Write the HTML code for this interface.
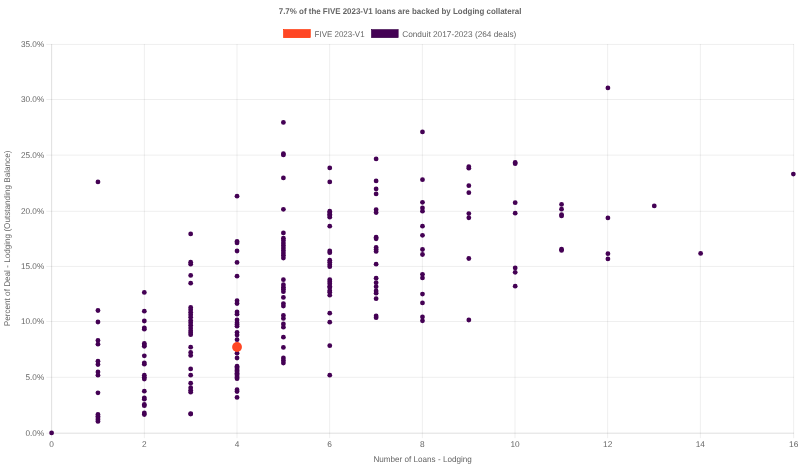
<!DOCTYPE html>
<html><head><meta charset="utf-8"><title>Lodging collateral</title>
<style>html,body{margin:0;padding:0;background:#fff;}body{width:800px;height:467px;overflow:hidden;}svg{display:block;font-family:"Liberation Sans",sans-serif;font-size:8.3px;fill:#666;text-rendering:geometricPrecision;}</style></head><body>
<svg width="800" height="467" viewBox="0 0 800 467">
<defs><filter id="soft" x="0" y="0" width="800" height="467" filterUnits="userSpaceOnUse" color-interpolation-filters="sRGB"><feGaussianBlur stdDeviation="0.4"/></filter></defs>
<rect width="800" height="467" fill="#fff"/>
<g stroke="rgba(0,0,0,0.1)" stroke-width="0.667" fill="none">
<line x1="51.67" y1="44.07" x2="51.67" y2="438.17"/>
<line x1="144.33" y1="44.07" x2="144.33" y2="438.17"/>
<line x1="237.00" y1="44.07" x2="237.00" y2="438.17"/>
<line x1="329.67" y1="44.07" x2="329.67" y2="438.17"/>
<line x1="422.33" y1="44.07" x2="422.33" y2="438.17"/>
<line x1="515.00" y1="44.07" x2="515.00" y2="438.17"/>
<line x1="607.67" y1="44.07" x2="607.67" y2="438.17"/>
<line x1="700.33" y1="44.07" x2="700.33" y2="438.17"/>
<line x1="793.67" y1="44.07" x2="793.67" y2="438.17"/>
<line x1="46.27" y1="433.17" x2="794.00" y2="433.17"/>
<line x1="46.27" y1="377.28" x2="794.00" y2="377.28"/>
<line x1="46.27" y1="321.53" x2="794.00" y2="321.53"/>
<line x1="46.27" y1="266.40" x2="794.00" y2="266.40"/>
<line x1="46.27" y1="211.30" x2="794.00" y2="211.30"/>
<line x1="46.27" y1="155.15" x2="794.00" y2="155.15"/>
<line x1="46.27" y1="99.50" x2="794.00" y2="99.50"/>
<line x1="46.27" y1="44.40" x2="794.00" y2="44.40"/>
<line x1="51.67" y1="44.07" x2="51.67" y2="433.50"/>
<line x1="51.34" y1="433.17" x2="794.00" y2="433.17"/>
</g>
<rect x="283.6" y="29.65" width="26.67" height="8" fill="#ff4624" stroke="#ff3000" stroke-width="0.667"/>
<rect x="371.5" y="29.65" width="26.67" height="8" fill="#440154" stroke="#3a0048" stroke-width="0.667"/>
<g filter="url(#soft)">
<g text-anchor="end">
<text x="44.2" y="435.97" textLength="18.7" lengthAdjust="spacingAndGlyphs">0.0%</text>
<text x="44.2" y="380.08" textLength="18.7" lengthAdjust="spacingAndGlyphs">5.0%</text>
<text x="44.2" y="324.33" textLength="23.3" lengthAdjust="spacingAndGlyphs">10.0%</text>
<text x="44.2" y="269.20" textLength="23.3" lengthAdjust="spacingAndGlyphs">15.0%</text>
<text x="44.2" y="214.10" textLength="23.3" lengthAdjust="spacingAndGlyphs">20.0%</text>
<text x="44.2" y="157.95" textLength="23.3" lengthAdjust="spacingAndGlyphs">25.0%</text>
<text x="44.2" y="102.30" textLength="23.3" lengthAdjust="spacingAndGlyphs">30.0%</text>
<text x="44.2" y="47.20" textLength="23.3" lengthAdjust="spacingAndGlyphs">35.0%</text>
</g><g text-anchor="middle">
<text x="51.67" y="447.4">0</text>
<text x="144.33" y="447.4">2</text>
<text x="237.00" y="447.4">4</text>
<text x="329.67" y="447.4">6</text>
<text x="422.33" y="447.4">8</text>
<text x="515.00" y="447.4">10</text>
<text x="607.67" y="447.4">12</text>
<text x="700.33" y="447.4">14</text>
<text x="793.67" y="447.4">16</text>
</g>
<text x="400.05" y="14.35" text-anchor="middle" font-weight="bold" textLength="242.6" lengthAdjust="spacingAndGlyphs">7.7% of the FIVE 2023-V1 loans are backed by Lodging collateral</text>
<text x="422.6" y="461.75" text-anchor="middle" textLength="98.4" lengthAdjust="spacingAndGlyphs">Number of Loans - Lodging</text>
<text transform="translate(10.4,238.4) rotate(-90)" text-anchor="middle" textLength="175.6" lengthAdjust="spacingAndGlyphs">Percent of Deal - Lodging (Outstanding Balance)</text>
<text x="314.6" y="36.8" textLength="50.0" lengthAdjust="spacingAndGlyphs">FIVE 2023-V1</text>
<text x="402.2" y="36.8" textLength="114.1" lengthAdjust="spacingAndGlyphs">Conduit 2017-2023 (264 deals)</text>
<g fill="#440154">
<circle cx="51.60" cy="432.95" r="2.4"/>
<circle cx="97.96" cy="181.95" r="2.4"/>
<circle cx="97.96" cy="310.50" r="2.4"/>
<circle cx="97.96" cy="322.00" r="2.4"/>
<circle cx="97.96" cy="340.50" r="2.4"/>
<circle cx="97.96" cy="344.20" r="2.4"/>
<circle cx="97.96" cy="361.20" r="2.4"/>
<circle cx="97.96" cy="364.50" r="2.4"/>
<circle cx="97.96" cy="372.00" r="2.4"/>
<circle cx="97.96" cy="375.20" r="2.4"/>
<circle cx="97.96" cy="392.80" r="2.4"/>
<circle cx="97.96" cy="414.40" r="2.4"/>
<circle cx="97.96" cy="416.20" r="2.4"/>
<circle cx="97.96" cy="418.00" r="2.4"/>
<circle cx="97.96" cy="419.80" r="2.4"/>
<circle cx="97.96" cy="421.40" r="2.4"/>
<circle cx="144.32" cy="292.45" r="2.4"/>
<circle cx="144.32" cy="311.20" r="2.4"/>
<circle cx="144.32" cy="321.00" r="2.4"/>
<circle cx="144.32" cy="327.80" r="2.4"/>
<circle cx="144.32" cy="329.20" r="2.4"/>
<circle cx="144.32" cy="343.50" r="2.4"/>
<circle cx="144.32" cy="345.00" r="2.4"/>
<circle cx="144.32" cy="346.30" r="2.4"/>
<circle cx="144.32" cy="355.80" r="2.4"/>
<circle cx="144.32" cy="362.80" r="2.4"/>
<circle cx="144.32" cy="364.20" r="2.4"/>
<circle cx="144.32" cy="375.20" r="2.4"/>
<circle cx="144.32" cy="377.20" r="2.4"/>
<circle cx="144.32" cy="379.00" r="2.4"/>
<circle cx="144.32" cy="391.20" r="2.4"/>
<circle cx="144.32" cy="397.80" r="2.4"/>
<circle cx="144.32" cy="399.20" r="2.4"/>
<circle cx="144.32" cy="404.50" r="2.4"/>
<circle cx="144.32" cy="405.70" r="2.4"/>
<circle cx="144.32" cy="413.00" r="2.4"/>
<circle cx="144.32" cy="414.50" r="2.4"/>
<circle cx="190.68" cy="233.95" r="2.4"/>
<circle cx="190.68" cy="262.20" r="2.4"/>
<circle cx="190.68" cy="264.20" r="2.4"/>
<circle cx="190.68" cy="275.45" r="2.4"/>
<circle cx="190.68" cy="283.20" r="2.4"/>
<circle cx="190.68" cy="307.40" r="2.4"/>
<circle cx="190.68" cy="309.70" r="2.4"/>
<circle cx="190.68" cy="312.20" r="2.4"/>
<circle cx="190.68" cy="314.70" r="2.4"/>
<circle cx="190.68" cy="317.20" r="2.4"/>
<circle cx="190.68" cy="320.40" r="2.4"/>
<circle cx="190.68" cy="322.70" r="2.4"/>
<circle cx="190.68" cy="325.20" r="2.4"/>
<circle cx="190.68" cy="327.90" r="2.4"/>
<circle cx="190.68" cy="330.70" r="2.4"/>
<circle cx="190.68" cy="332.70" r="2.4"/>
<circle cx="190.68" cy="334.70" r="2.4"/>
<circle cx="190.68" cy="347.20" r="2.4"/>
<circle cx="190.68" cy="352.40" r="2.4"/>
<circle cx="190.68" cy="355.40" r="2.4"/>
<circle cx="190.68" cy="368.95" r="2.4"/>
<circle cx="190.68" cy="375.20" r="2.4"/>
<circle cx="190.68" cy="383.20" r="2.4"/>
<circle cx="190.68" cy="387.70" r="2.4"/>
<circle cx="190.68" cy="390.20" r="2.4"/>
<circle cx="190.68" cy="392.20" r="2.4"/>
<circle cx="190.68" cy="413.70" r="2.4"/>
<circle cx="190.68" cy="414.10" r="2.4"/>
<circle cx="237.04" cy="196.20" r="2.4"/>
<circle cx="237.04" cy="241.50" r="2.4"/>
<circle cx="237.04" cy="242.90" r="2.4"/>
<circle cx="237.04" cy="251.00" r="2.4"/>
<circle cx="237.04" cy="262.40" r="2.4"/>
<circle cx="237.04" cy="276.20" r="2.4"/>
<circle cx="237.04" cy="300.70" r="2.4"/>
<circle cx="237.04" cy="303.50" r="2.4"/>
<circle cx="237.04" cy="311.90" r="2.4"/>
<circle cx="237.04" cy="314.20" r="2.4"/>
<circle cx="237.04" cy="319.90" r="2.4"/>
<circle cx="237.04" cy="322.70" r="2.4"/>
<circle cx="237.04" cy="324.50" r="2.4"/>
<circle cx="237.04" cy="326.20" r="2.4"/>
<circle cx="237.04" cy="332.40" r="2.4"/>
<circle cx="237.04" cy="335.00" r="2.4"/>
<circle cx="237.04" cy="339.70" r="2.4"/>
<circle cx="237.04" cy="353.20" r="2.4"/>
<circle cx="237.04" cy="358.00" r="2.4"/>
<circle cx="237.04" cy="366.20" r="2.4"/>
<circle cx="237.04" cy="367.60" r="2.4"/>
<circle cx="237.04" cy="369.00" r="2.4"/>
<circle cx="237.04" cy="370.40" r="2.4"/>
<circle cx="237.04" cy="371.80" r="2.4"/>
<circle cx="237.04" cy="373.20" r="2.4"/>
<circle cx="237.04" cy="374.60" r="2.4"/>
<circle cx="237.04" cy="376.00" r="2.4"/>
<circle cx="237.04" cy="377.40" r="2.4"/>
<circle cx="237.04" cy="378.70" r="2.4"/>
<circle cx="237.04" cy="389.70" r="2.4"/>
<circle cx="237.04" cy="391.50" r="2.4"/>
<circle cx="237.04" cy="397.45" r="2.4"/>
<circle cx="283.40" cy="122.45" r="2.4"/>
<circle cx="283.40" cy="153.70" r="2.4"/>
<circle cx="283.40" cy="154.95" r="2.4"/>
<circle cx="283.40" cy="177.95" r="2.4"/>
<circle cx="283.40" cy="209.30" r="2.4"/>
<circle cx="283.40" cy="232.90" r="2.4"/>
<circle cx="283.40" cy="238.20" r="2.4"/>
<circle cx="283.40" cy="240.60" r="2.4"/>
<circle cx="283.40" cy="243.10" r="2.4"/>
<circle cx="283.40" cy="245.50" r="2.4"/>
<circle cx="283.40" cy="248.00" r="2.4"/>
<circle cx="283.40" cy="250.40" r="2.4"/>
<circle cx="283.40" cy="252.90" r="2.4"/>
<circle cx="283.40" cy="255.30" r="2.4"/>
<circle cx="283.40" cy="258.00" r="2.4"/>
<circle cx="283.40" cy="279.70" r="2.4"/>
<circle cx="283.40" cy="284.70" r="2.4"/>
<circle cx="283.40" cy="287.20" r="2.4"/>
<circle cx="283.40" cy="289.20" r="2.4"/>
<circle cx="283.40" cy="291.70" r="2.4"/>
<circle cx="283.40" cy="297.40" r="2.4"/>
<circle cx="283.40" cy="303.60" r="2.4"/>
<circle cx="283.40" cy="306.00" r="2.4"/>
<circle cx="283.40" cy="315.40" r="2.4"/>
<circle cx="283.40" cy="318.40" r="2.4"/>
<circle cx="283.40" cy="324.00" r="2.4"/>
<circle cx="283.40" cy="327.20" r="2.4"/>
<circle cx="283.40" cy="337.20" r="2.4"/>
<circle cx="283.40" cy="347.45" r="2.4"/>
<circle cx="283.40" cy="357.90" r="2.4"/>
<circle cx="283.40" cy="360.50" r="2.4"/>
<circle cx="283.40" cy="363.00" r="2.4"/>
<circle cx="329.76" cy="167.95" r="2.4"/>
<circle cx="329.76" cy="181.95" r="2.4"/>
<circle cx="329.76" cy="211.20" r="2.4"/>
<circle cx="329.76" cy="212.70" r="2.4"/>
<circle cx="329.76" cy="214.20" r="2.4"/>
<circle cx="329.76" cy="215.70" r="2.4"/>
<circle cx="329.76" cy="217.20" r="2.4"/>
<circle cx="329.76" cy="226.20" r="2.4"/>
<circle cx="329.76" cy="250.95" r="2.4"/>
<circle cx="329.76" cy="252.70" r="2.4"/>
<circle cx="329.76" cy="260.20" r="2.4"/>
<circle cx="329.76" cy="262.20" r="2.4"/>
<circle cx="329.76" cy="264.70" r="2.4"/>
<circle cx="329.76" cy="266.70" r="2.4"/>
<circle cx="329.76" cy="279.70" r="2.4"/>
<circle cx="329.76" cy="281.70" r="2.4"/>
<circle cx="329.76" cy="283.70" r="2.4"/>
<circle cx="329.76" cy="286.20" r="2.4"/>
<circle cx="329.76" cy="287.70" r="2.4"/>
<circle cx="329.76" cy="290.70" r="2.4"/>
<circle cx="329.76" cy="292.20" r="2.4"/>
<circle cx="329.76" cy="295.20" r="2.4"/>
<circle cx="329.76" cy="313.20" r="2.4"/>
<circle cx="329.76" cy="322.20" r="2.4"/>
<circle cx="329.76" cy="345.70" r="2.4"/>
<circle cx="329.76" cy="375.20" r="2.4"/>
<circle cx="376.12" cy="158.95" r="2.4"/>
<circle cx="376.12" cy="180.95" r="2.4"/>
<circle cx="376.12" cy="188.95" r="2.4"/>
<circle cx="376.12" cy="193.95" r="2.4"/>
<circle cx="376.12" cy="209.70" r="2.4"/>
<circle cx="376.12" cy="212.60" r="2.4"/>
<circle cx="376.12" cy="237.20" r="2.4"/>
<circle cx="376.12" cy="238.80" r="2.4"/>
<circle cx="376.12" cy="247.50" r="2.4"/>
<circle cx="376.12" cy="249.40" r="2.4"/>
<circle cx="376.12" cy="251.45" r="2.4"/>
<circle cx="376.12" cy="264.20" r="2.4"/>
<circle cx="376.12" cy="278.20" r="2.4"/>
<circle cx="376.12" cy="282.70" r="2.4"/>
<circle cx="376.12" cy="286.70" r="2.4"/>
<circle cx="376.12" cy="291.00" r="2.4"/>
<circle cx="376.12" cy="293.20" r="2.4"/>
<circle cx="376.12" cy="298.70" r="2.4"/>
<circle cx="376.12" cy="315.95" r="2.4"/>
<circle cx="376.12" cy="317.70" r="2.4"/>
<circle cx="422.48" cy="131.95" r="2.4"/>
<circle cx="422.48" cy="179.70" r="2.4"/>
<circle cx="422.48" cy="202.30" r="2.4"/>
<circle cx="422.48" cy="208.00" r="2.4"/>
<circle cx="422.48" cy="211.20" r="2.4"/>
<circle cx="422.48" cy="226.20" r="2.4"/>
<circle cx="422.48" cy="235.30" r="2.4"/>
<circle cx="422.48" cy="249.50" r="2.4"/>
<circle cx="422.48" cy="254.50" r="2.4"/>
<circle cx="422.48" cy="274.30" r="2.4"/>
<circle cx="422.48" cy="277.90" r="2.4"/>
<circle cx="422.48" cy="294.10" r="2.4"/>
<circle cx="422.48" cy="302.90" r="2.4"/>
<circle cx="422.48" cy="317.00" r="2.4"/>
<circle cx="422.48" cy="320.80" r="2.4"/>
<circle cx="468.83" cy="166.70" r="2.4"/>
<circle cx="468.83" cy="168.20" r="2.4"/>
<circle cx="468.83" cy="185.70" r="2.4"/>
<circle cx="468.83" cy="192.70" r="2.4"/>
<circle cx="468.83" cy="213.60" r="2.4"/>
<circle cx="468.83" cy="217.80" r="2.4"/>
<circle cx="468.83" cy="258.50" r="2.4"/>
<circle cx="468.83" cy="320.00" r="2.4"/>
<circle cx="515.19" cy="162.45" r="2.4"/>
<circle cx="515.19" cy="163.70" r="2.4"/>
<circle cx="515.19" cy="202.70" r="2.4"/>
<circle cx="515.19" cy="213.20" r="2.4"/>
<circle cx="515.19" cy="267.95" r="2.4"/>
<circle cx="515.19" cy="272.30" r="2.4"/>
<circle cx="515.19" cy="286.20" r="2.4"/>
<circle cx="561.55" cy="204.45" r="2.4"/>
<circle cx="561.55" cy="209.20" r="2.4"/>
<circle cx="561.55" cy="214.70" r="2.4"/>
<circle cx="561.55" cy="215.95" r="2.4"/>
<circle cx="561.55" cy="249.20" r="2.4"/>
<circle cx="561.55" cy="250.45" r="2.4"/>
<circle cx="607.91" cy="87.95" r="2.4"/>
<circle cx="607.91" cy="217.95" r="2.4"/>
<circle cx="607.91" cy="253.70" r="2.4"/>
<circle cx="607.91" cy="258.95" r="2.4"/>
<circle cx="654.27" cy="205.95" r="2.4"/>
<circle cx="700.63" cy="253.45" r="2.4"/>
<circle cx="793.35" cy="174.10" r="2.4"/>
</g>
<circle cx="237.04" cy="347" r="4.9" fill="#ff4624"/>
</g>
</svg></body></html>
